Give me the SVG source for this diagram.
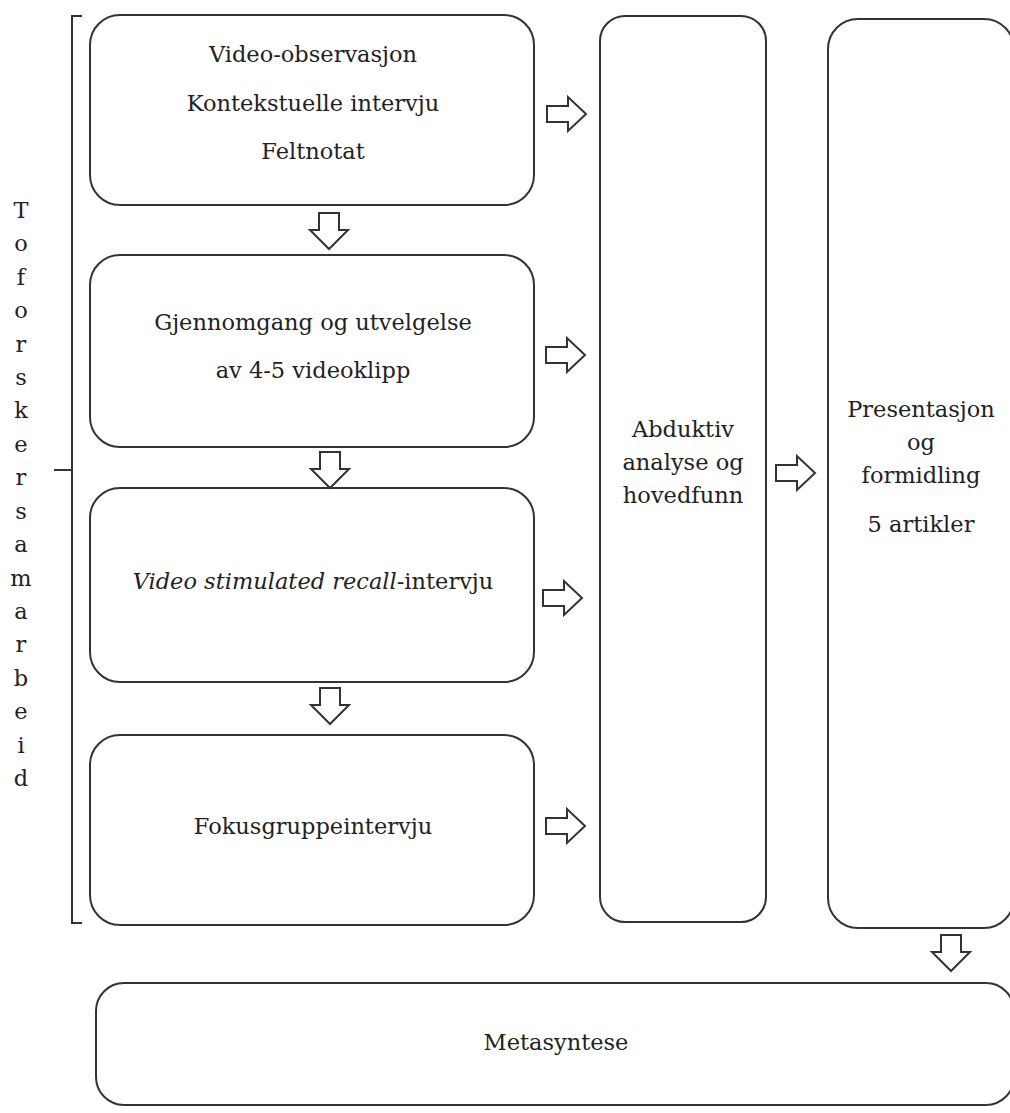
<svg xmlns="http://www.w3.org/2000/svg" width="1010" height="1113" viewBox="0 0 1010 1113">
<style>
.box{fill:#fff;stroke:#333;stroke-width:2}
.arr{fill:#fff;stroke:#333;stroke-width:2;stroke-linejoin:miter}
.line{fill:none;stroke:#333;stroke-width:2}
text{font-family:"DejaVu Serif","Liberation Serif",serif;font-size:22.5px;fill:#222;text-anchor:middle}
</style>
<defs>
<path id="ra" d="M0,-8 H21 V-17 L39,0 L21,17 V8 H0 Z"/>
<path id="da" d="M-10,0 H10 V17 H19 L0,36 L-19,17 H-10 Z"/>
</defs>
<g id="bracket">
<path class="line" d="M82,16 H72 V923 H82"/>
<path class="line" d="M54,470 H72"/>
<g id="bracket-label">
<text x="21" y="218">T</text>
<text x="21" y="251">o</text>
<text x="21" y="285">f</text>
<text x="21" y="318">o</text>
<text x="21" y="352">r</text>
<text x="21" y="385">s</text>
<text x="21" y="418">k</text>
<text x="21" y="452">e</text>
<text x="21" y="485">r</text>
<text x="21" y="519">s</text>
<text x="21" y="552">a</text>
<text x="21" y="586">m</text>
<text x="21" y="619">a</text>
<text x="21" y="652">r</text>
<text x="21" y="686">b</text>
<text x="21" y="719">e</text>
<text x="21" y="753">i</text>
<text x="21" y="786">d</text>
</g>
</g>
<g id="node1">
<rect class="box" x="90" y="15" width="444" height="190" rx="30"/>
<text x="313" y="62">Video-observasjon</text>
<text x="313" y="111">Kontekstuelle intervju</text>
<text x="313" y="159">Feltnotat</text>
</g>
<g id="node2">
<rect class="box" x="90" y="255" width="444" height="192" rx="30"/>
<text x="313" y="330">Gjennomgang og utvelgelse</text>
<text x="313" y="378">av 4-5 videoklipp</text>
</g>
<g id="node3">
<rect class="box" x="90" y="488" width="444" height="194" rx="30"/>
<text x="313" y="589"><tspan font-style="italic">Video stimulated recall</tspan>-intervju</text>
</g>
<g id="node4">
<rect class="box" x="90" y="735" width="444" height="190" rx="30"/>
<text x="313" y="834">Fokusgruppeintervju</text>
</g>
<g id="node5">
<rect class="box" x="600" y="16" width="166" height="906" rx="25"/>
<text x="683" y="437">Abduktiv</text>
<text x="683" y="470">analyse og</text>
<text x="683" y="503">hovedfunn</text>
</g>
<g id="node6">
<rect class="box" x="828" y="19" width="186" height="909" rx="30"/>
<text x="921" y="417">Presentasjon</text>
<text x="921" y="450">og</text>
<text x="921" y="483">formidling</text>
<text x="921" y="532">5 artikler</text>
</g>
<g id="node7">
<rect class="box" x="96" y="983" width="918" height="122" rx="28"/>
<text x="556" y="1050">Metasyntese</text>
</g>
<g id="connectors">
<use href="#ra" class="arr" x="547" y="114"/>
<use href="#ra" class="arr" x="546" y="355"/>
<use href="#ra" class="arr" x="543" y="598"/>
<use href="#ra" class="arr" x="546" y="826"/>
<use href="#ra" class="arr" x="776" y="473"/>
<use href="#da" class="arr" x="329" y="213"/>
<use href="#da" class="arr" x="330" y="452"/>
<use href="#da" class="arr" x="330" y="688"/>
<use href="#da" class="arr" x="951" y="935"/>
</g>
</svg>
